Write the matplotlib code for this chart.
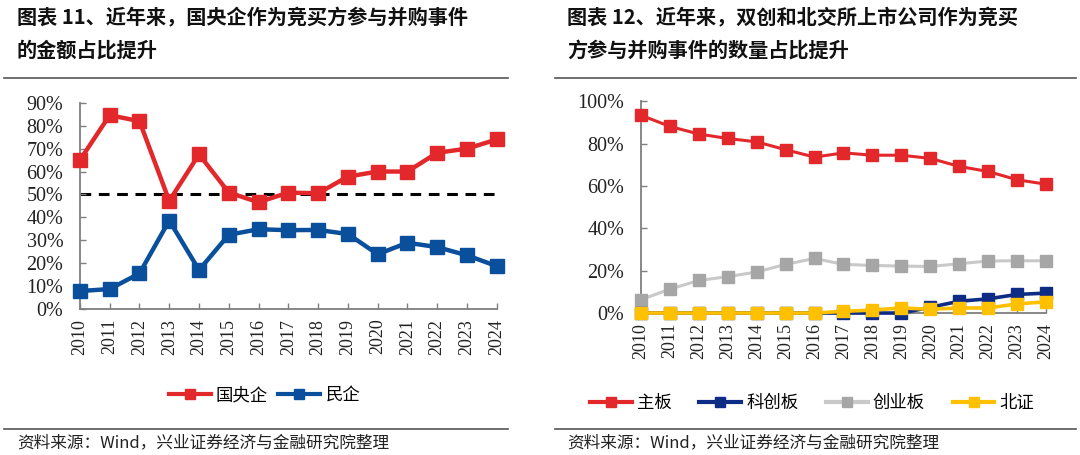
import numpy as np
import matplotlib
matplotlib.use("Agg")
import matplotlib.pyplot as plt
from matplotlib.lines import Line2D

plt.rcParams['font.family'] = ['Noto Sans CJK SC', 'DejaVu Sans']

years = [str(y) for y in range(2010, 2025)]

# 图表11: 国央企 / 民企 金额占比
soe = [65, 84.6, 82, 47.2, 67.5, 50.8, 46.6, 50.8, 50.5, 57.8, 60, 60, 68.2, 70, 74]
private = [7.8, 8.7, 15.5, 38.6, 17, 32.4, 34.8, 34.4, 34.5, 32.7, 23.9, 28.9, 27, 23.4, 18.7]

# 图表12: 各板块数量占比
main_board = [93.5, 88.2, 84.6, 82.5, 80.9, 77.2, 73.7, 75.7, 74.6, 74.6, 73.1, 69.3, 66.9, 63, 60.9]
star = [0, 0, 0, 0, 0, 0, 0, 0, 0, 0, 2.7, 5.6, 6.7, 8.8, 9.4]
chinext = [6.3, 11.3, 15.4, 17.2, 19.4, 23, 25.8, 23, 22.5, 22.2, 22, 23.3, 24.6, 24.7, 24.7]
bse = [0, 0, 0, 0, 0, 0, 0, 0.8, 1.4, 2.4, 1.8, 2.4, 2.4, 4.3, 5.3]

RED = '#E2282A'
BLUE = '#0A4F9C'
NAVY = '#0E2C84'
GRAY = '#A6A6A6'
GRAY_L = '#C9C9C9'
YELLOW = '#FFC000'
AX = '#7F7F7F'
serif = 'Liberation Serif'

fig = plt.figure(figsize=(10.8, 4.55), dpi=100)

def style_axes(ax, ymax, step):
    x = np.arange(len(years))
    ax.set_xlim(0, len(years) - 1)
    ax.set_ylim(0, ymax)
    ax.set_xticks(x)
    ax.set_xticklabels(years, rotation=90, fontfamily=serif, fontsize=13)
    yt = np.arange(0, ymax + 1e-9, step)
    ax.set_yticks(yt)
    ax.set_yticklabels(['%d%%' % round(v) for v in yt], fontfamily=serif, fontsize=14.5)
    for s in ['top', 'right']:
        ax.spines[s].set_visible(False)
    for s in ['left', 'bottom']:
        ax.spines[s].set_color(AX)
        ax.spines[s].set_linewidth(1.3)
    ax.tick_params(direction='in', length=4, width=1, color=AX, labelcolor='#222222')
    ax.tick_params(axis='y', pad=12)
    ax.tick_params(axis='x', pad=7)
    ax.set_facecolor('none')

# left chart
ax1 = fig.add_axes([0.074, 0.321, 0.386, 0.453])
x = np.arange(len(years))
ax1.axhline(50, color='black', lw=2.2, ls=(0, (3.5, 2.5)), zorder=1)
ax1.plot(x, soe, color=RED, lw=3.2, marker='s', ms=10, clip_on=False, zorder=3)
ax1.plot(x, private, color=BLUE, lw=3.2, marker='s', ms=10, clip_on=False, zorder=3)
style_axes(ax1, 90, 10)

# right chart
ax2 = fig.add_axes([0.5935, 0.312, 0.375, 0.465])
ax2.plot(x, main_board, color=RED, lw=2.2, marker='s', ms=9, clip_on=False, zorder=3)
ax2.plot(x, chinext, color=GRAY_L, lw=2.2, marker='s', ms=9, mfc=GRAY, mec=GRAY,
         clip_on=False, zorder=3)
ax2.plot(x, star, color=NAVY, lw=2.6, marker='s', ms=9, clip_on=False, zorder=4)
ax2.plot(x, bse, color=YELLOW, lw=2.6, marker='s', ms=9, clip_on=False, zorder=5)
style_axes(ax2, 100, 20)

# legends
def handle(c, mc=None, lw=3):
    mc = mc or c
    return Line2D([], [], color=c, lw=lw, marker='s', ms=7, mfc=mc, mec=mc)

fig.legend([handle(RED), handle(BLUE)], ['国央企', '民企'], ncol=2,
           loc='center', bbox_to_anchor=(0.245, 0.132), frameon=False,
           fontsize=12.5, handlelength=2.4, handletextpad=0.3, columnspacing=0.6)
fig.legend([handle(RED), handle(NAVY), handle(GRAY_L, GRAY), handle(YELLOW)],
           ['主板', '科创板', '创业板', '北证'], ncol=4,
           loc='center', bbox_to_anchor=(0.752, 0.114), frameon=False,
           fontsize=12.5, handlelength=2.4, handletextpad=0.3, columnspacing=1.6)

# titles
tk = dict(fontsize=14.5, fontweight='bold', color='#111111', va='center', ha='left')
fig.text(17 / 1080, 1 - 18 / 455, '图表 11、近年来，国央企作为竞买方参与并购事件', **tk)
fig.text(17 / 1080, 1 - 50 / 455, '的金额占比提升', **tk)
fig.text(567 / 1080, 1 - 18 / 455, '图表 12、近年来，双创和北交所上市公司作为竞买', **tk)
fig.text(567 / 1080, 1 - 50 / 455, '方参与并购事件的数量占比提升', **tk)

# rules
for x0, x1 in [(4, 508), (555, 1076)]:
    for yy in [77.5, 428.5]:
        fig.add_artist(Line2D([x0 / 1080, x1 / 1080], [1 - yy / 455] * 2,
                              color='#555555', lw=1.2))

# source
src = dict(fontsize=12, color='#222222', va='center', ha='left')
fig.text(17 / 1080, 1 - 443 / 455, '资料来源：Wind，兴业证券经济与金融研究院整理', **src)
fig.text(567 / 1080, 1 - 443 / 455, '资料来源：Wind，兴业证券经济与金融研究院整理', **src)

fig.savefig('out.png', dpi=100)
